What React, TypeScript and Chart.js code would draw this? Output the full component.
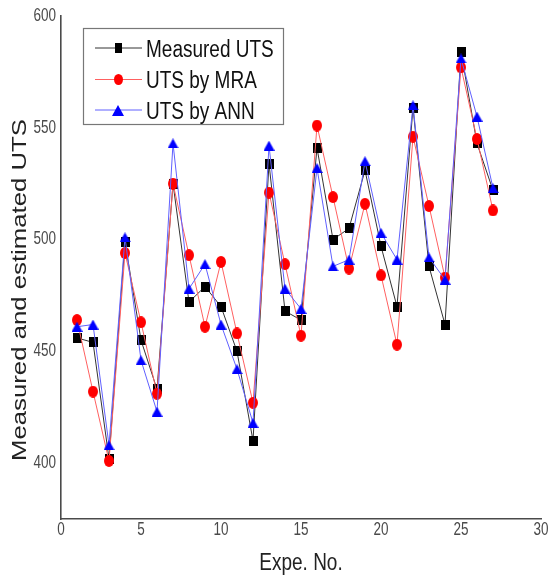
import React, { useEffect, useRef } from 'react';
import { Chart, registerables } from 'chart.js';

Chart.register(...registerables);

const experimentNo = [1, 2, 3, 4, 5, 6, 7, 8, 9, 10, 11, 12, 13, 14, 15, 16, 17, 18, 19, 20, 21, 22, 23, 24, 25, 26, 27];
const measuredUTS = [456, 454, 402, 499, 455, 433, 525, 472, 479, 470, 450, 410, 534, 468, 464, 541, 500, 505, 531, 497, 470, 559, 488, 462, 584, 543, 522];
const mraUTS = [464, 432, 401, 494, 463, 431, 525, 493, 461, 490, 458, 427, 521, 489, 457, 551, 519, 487, 516, 484, 453, 546, 515, 483, 577, 545, 513];
const annUTS = [461, 462, 408, 501, 446, 423, 543, 478, 489, 462, 442, 418, 542, 478, 469, 532, 488, 491, 535, 503, 491, 560, 492, 482, 581, 555, 523];
const xTickValues = [0, 5, 10, 15, 20, 25, 30];
const yTickValues = [400, 450, 500, 550, 600];
const seriesNames = ['Measured UTS', 'UTS by MRA', 'UTS by ANN'];
const xTitle = 'Expe. No.';
const yTitle = 'Measured and estimated UTS';

const FONT = "'Liberation Sans', Arial, sans-serif";
const STRETCH = 1.3;

const toPoints = (vals: number[]) => vals.map((v, i) => ({ x: experimentNo[i], y: v }));

function makeMarker(shape: string, color: string, w: number, h: number) {
  const c = document.createElement('canvas');
  c.width = w;
  c.height = h;
  const g = c.getContext('2d')!;
  g.fillStyle = color;
  g.beginPath();
  if (shape === 'rect') {
    g.rect(0, 0, w, h);
  } else if (shape === 'circle') {
    g.ellipse(w / 2, h / 2, w / 2, h / 2, 0, 0, Math.PI * 2);
  } else {
    g.moveTo(w / 2, 0);
    g.lineTo(w, h);
    g.lineTo(0, h);
    g.closePath();
  }
  g.fill();
  return c;
}

function drawText(
  ctx: CanvasRenderingContext2D,
  text: string,
  x: number,
  y: number,
  size: number,
  color: string,
  align: CanvasTextAlign,
  baseline: CanvasTextBaseline,
  sx: number,
  sy: number,
  rot = 0
) {
  ctx.save();
  ctx.translate(x, y);
  if (rot) ctx.rotate(rot);
  ctx.scale(sx, sy);
  ctx.font = `${size}px ${FONT}`;
  ctx.fillStyle = color;
  ctx.textAlign = align;
  ctx.textBaseline = baseline;
  ctx.fillText(text, 0, 0);
  ctx.restore();
}

export default function App() {
  const ref = useRef<HTMLCanvasElement | null>(null);
  useEffect(() => {
    if (!ref.current) return;
    const markers = [
      makeMarker('rect', '#000000', 9, 10),
      makeMarker('circle', '#ff0000', 10, 12),
      makeMarker('triangle', '#0000ff', 11, 10),
    ];
    const legendMarkers = [
      makeMarker('rect', '#000000', 7, 10),
      makeMarker('circle', '#ff0000', 9, 11),
      makeMarker('triangle', '#0000ff', 12, 11),
    ];
    const lineColors = ['#333333', '#ff6060', '#6060ff'];

    const textPlugin = {
      id: 'stretchedText',
      afterDraw(chart: any) {
        const ctx = chart.ctx as CanvasRenderingContext2D;
        const xs = chart.scales.x;
        const ys = chart.scales.y;
        xTickValues.forEach((v) => {
          drawText(ctx, String(v), xs.getPixelForValue(v), 535, 13.5, '#4a4a4a', 'center', 'alphabetic', 1, STRETCH);
        });
        yTickValues.forEach((v) => {
          drawText(ctx, String(v), 56, ys.getPixelForValue(v), 13.5, '#4a4a4a', 'right', 'middle', 1, STRETCH);
        });
        drawText(ctx, xTitle, (chart.chartArea.left + chart.chartArea.right) / 2, 570, 19, '#222222', 'center', 'alphabetic', 1, STRETCH);
        drawText(ctx, yTitle, 26, 290, 19.5, '#222222', 'center', 'alphabetic', 1.32, 1, -Math.PI / 2);
      },
    };

    const boxLegend = {
      id: 'boxLegend',
      afterDatasetsDraw(chart: any) {
        const ctx = chart.ctx as CanvasRenderingContext2D;
        const bx = 83.5, by = 28.5, bw = 200, bh = 96;
        ctx.save();
        ctx.fillStyle = '#ffffff';
        ctx.fillRect(bx, by, bw, bh);
        ctx.strokeStyle = '#777777';
        ctx.lineWidth = 1.2;
        ctx.strokeRect(bx, by, bw, bh);
        const centers = [48, 79.5, 110];
        seriesNames.forEach((name, i) => {
          const y = centers[i];
          ctx.strokeStyle = lineColors[i];
          ctx.lineWidth = 1;
          ctx.beginPath();
          ctx.moveTo(95, y);
          ctx.lineTo(142, y);
          ctx.stroke();
          const m = legendMarkers[i];
          ctx.drawImage(m, Math.round(118 - m.width / 2), Math.round(y - m.height / 2));
          drawText(ctx, name, 146, y + 8.5, 19, '#111111', 'left', 'alphabetic', 1, STRETCH);
        });
        ctx.restore();
      },
    };

    const series = [measuredUTS, mraUTS, annUTS];
    const chart = new Chart(ref.current, {
      type: 'line',
      data: {
        datasets: series.map((vals, i) => ({
          label: seriesNames[i],
          data: toPoints(vals),
          borderColor: lineColors[i],
          backgroundColor: lineColors[i],
          pointStyle: markers[i] as any,
          pointRadius: 6,
          borderWidth: 1,
          order: 2 - i,
        })),
      },
      options: {
        animation: false,
        responsive: false,
        maintainAspectRatio: false,
        layout: { padding: { top: 16, right: 8, left: 0, bottom: 0 } },
        plugins: { legend: { display: false }, tooltip: { enabled: false } },
        scales: {
          x: {
            type: 'linear',
            min: 0,
            max: 30,
            afterBuildTicks(s: any) {
              s.ticks = xTickValues.map((v) => ({ value: v }));
            },
            ticks: { display: false },
            grid: { display: false, drawTicks: false },
            border: { display: true, color: '#4a4a4a', width: 1.6 },
            afterFit(s: any) {
              s.height = 60;
            },
          },
          y: {
            type: 'linear',
            min: 375,
            max: 600,
            afterBuildTicks(s: any) {
              s.ticks = yTickValues.map((v) => ({ value: v }));
            },
            ticks: { display: false },
            grid: { display: false, drawTicks: false },
            border: { display: true, color: '#4a4a4a', width: 1.6 },
            afterFit(s: any) {
              s.width = 61;
            },
          },
        },
      },
      plugins: [boxLegend, textPlugin],
    });
    return () => chart.destroy();
  }, []);
  return (
    <div style={{ position: 'fixed', left: 0, top: 0, width: 549, height: 579, background: '#fff' }}>
      <canvas ref={ref} width={549} height={579} style={{ display: 'block', width: 549, height: 579 }} />
    </div>
  );
}
